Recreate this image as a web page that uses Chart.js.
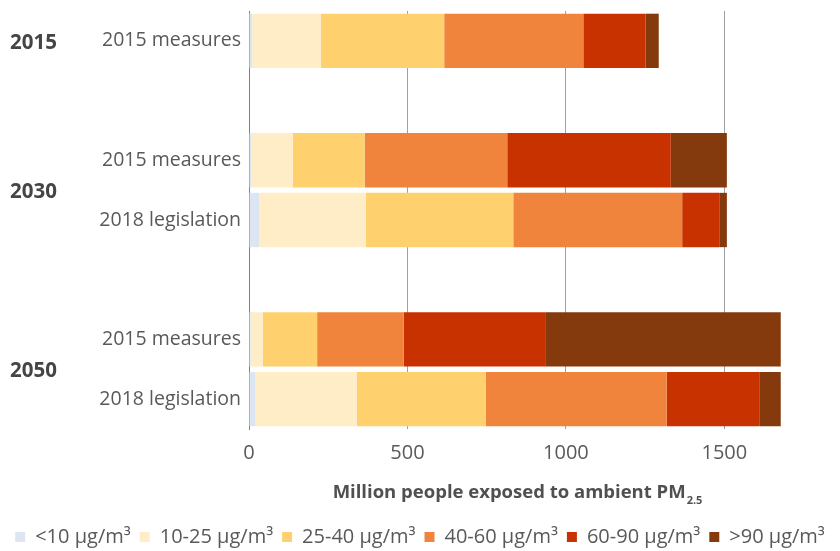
<!DOCTYPE html>
<html>
<head>
<meta charset="utf-8">
<script src="https://cdn.jsdelivr.net/npm/chart.js@4/dist/chart.umd.min.js"></script>
<style>
  html, body { margin: 0; padding: 0; background: #fff; }
  #wrap { width: 840px; height: 551px; }
</style>
</head>
<body>
<div id="wrap"><canvas id="pmChart"></canvas></div>
<script>
// rows (blank rows separate the year groups)
const rowLabels = ['2015 measures', '', '2015 measures', '2018 legislation', '', '2015 measures', '2018 legislation'];
const yearLabels = ['2015', '2030', '2050'];
const yearRows = [[0], [2, 3], [5, 6]];

const bandLabels = ['<10 µg/m³', '10-25 µg/m³', '25-40 µg/m³', '40-60 µg/m³', '60-90 µg/m³', '>90 µg/m³'];
const bandColors = ['#dce6f2', '#ffedc7', '#fed06e', '#f0843d', '#c73200', '#853a0d'];

// million people per concentration band
const below10 = [10, null, 8, 32, null, 5, 19];
const band10to25 = [217, null, 130, 337, null, 39, 321];
const band25to40 = [389, null, 227, 465, null, 171, 407];
const band40to60 = [439, null, 450, 533, null, 273, 571];
const band60to90 = [196, null, 516, 117, null, 449, 294];
const above90 = [42, null, 177, 24, null, 741, 66];

const xTicks = [0, 500, 1000, 1500];

const seriesData = [below10, band10to25, band25to40, band40to60, band60to90, above90];

const FONT = '"Open Sans", Lato, sans-serif';
const GREY_TEXT = '#595959';

// bold year labels + axis title with subscript
const extraText = {
    id: 'extraText',
    afterDraw(chart) {
        const ctx = chart.ctx;
        const y = chart.scales.y;
        const area = chart.chartArea;
        ctx.save();
        ctx.fillStyle = '#454545';
        ctx.font = 'bold 20.5px ' + FONT;
        ctx.textAlign = 'left';
        ctx.textBaseline = 'middle';
        yearLabels.forEach((yr, i) => {
            const rows = yearRows[i];
            let sum = 0;
            rows.forEach(r => { sum += y.getPixelForValue(r); });
            ctx.fillText(yr, 10, sum / rows.length + 2);
        });

        // x axis title
        const main = 'Million people exposed to ambient PM';
        const sub = '2.5';
        ctx.font = 'bold 18.5px ' + FONT;
        const w1 = ctx.measureText(main).width;
        ctx.font = 'bold 11px ' + FONT;
        const w2 = ctx.measureText(sub).width;
        const cx = (area.left + 785) / 2;
        const ty = area.bottom + 64;
        let sx = cx - (w1 + w2) / 2;
        ctx.fillStyle = '#505050';
        ctx.font = 'bold 18.5px ' + FONT;
        ctx.fillText(main, sx, ty);
        ctx.font = 'bold 11px ' + FONT;
        ctx.fillText(sub, sx + w1 + 1, ty + 8);
        ctx.restore();
    }
};

document.addEventListener('DOMContentLoaded', () => {
    const ctx = document.getElementById('pmChart').getContext('2d');
    new Chart(ctx, {
        type: 'bar',
        data: {
            labels: rowLabels,
            datasets: bandLabels.map((lbl, i) => ({
                label: lbl,
                data: seriesData[i],
                backgroundColor: bandColors[i],
                borderWidth: 0,
                barPercentage: 0.91,
                categoryPercentage: 1.0
            }))
        },
        options: {
            indexAxis: 'y',
            responsive: true,
            maintainAspectRatio: false,
            animation: false,
            layout: { padding: { top: 11, left: 0, right: 0, bottom: -6 } },
            scales: {
                x: {
                    stacked: true,
                    min: 0,
                    max: 1865,
                    afterBuildTicks(scale) {
                        scale.ticks = xTicks.map(v => ({ value: v }));
                    },
                    afterFit(scale) { scale.height = 89; },
                    grid: { color: '#a0a0a0', drawTicks: false },
                    border: { display: false },
                    ticks: {
                        padding: 12,
                        color: GREY_TEXT,
                        font: { family: FONT, size: 20 },
                        callback: v => String(v)
                    }
                },
                y: {
                    stacked: true,
                    afterFit(scale) {
                        scale.width = 249;
                        scale.paddingTop = 0;
                        scale.paddingBottom = 0;
                    },
                    grid: { display: false, drawTicks: false },
                    border: { display: true, color: '#7f7f7f', width: 1 },
                    ticks: {
                        padding: 8,
                        color: GREY_TEXT,
                        font: { family: FONT, size: 19.5 }
                    }
                }
            },
            plugins: {
                legend: {
                    position: 'bottom',
                    labels: {
                        boxWidth: 10,
                        boxHeight: 10,
                        padding: 9,
                        color: GREY_TEXT,
                        font: { family: FONT, size: 20 }
                    }
                },
                tooltip: { enabled: false }
            }
        },
        plugins: [extraText]
    });
});
</script>
</body>
</html>
